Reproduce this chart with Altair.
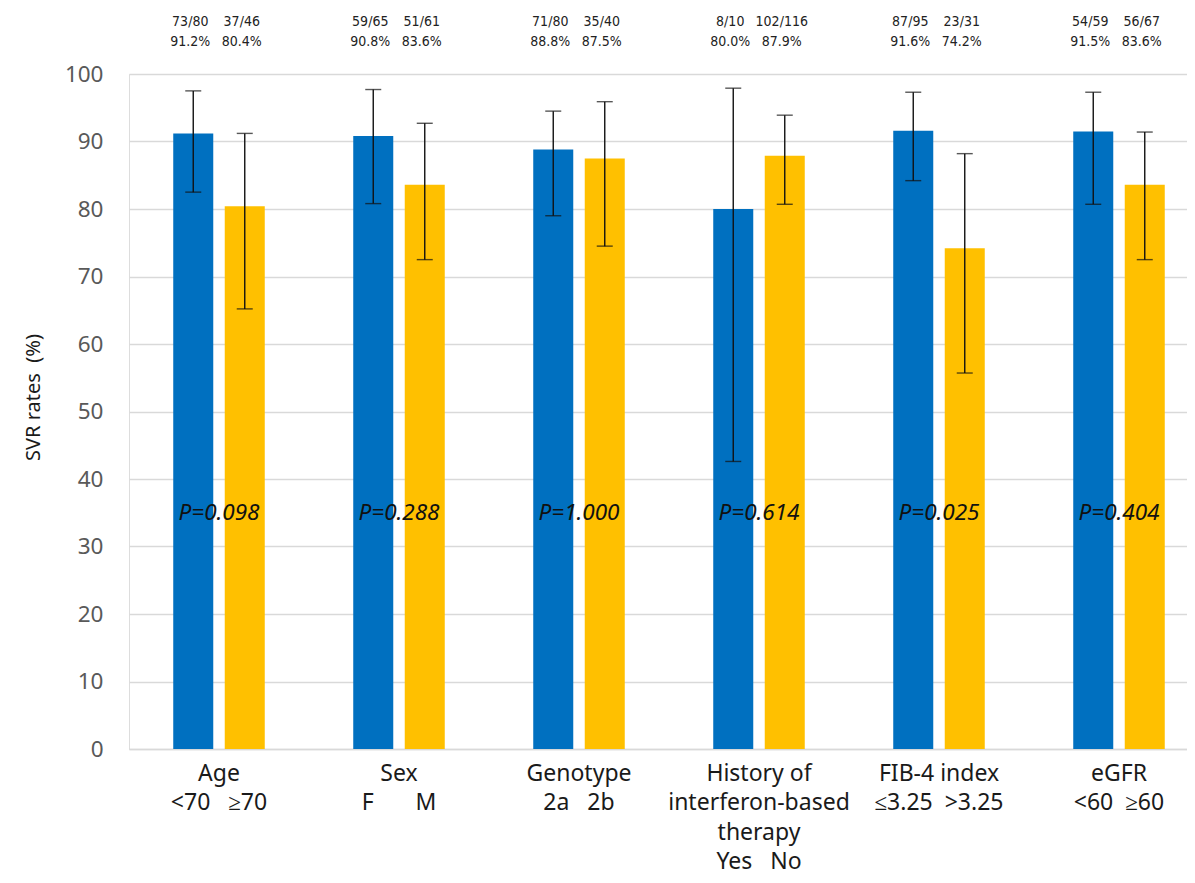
import altair as alt
import pandas as pd

NB = "\u00a0"

groups = [
    "Age|<70" + NB * 3 + "≥70",
    "Sex|F" + NB * 7 + "M",
    "Genotype|2a" + NB * 3 + "2b",
    "History of|interferon-based|therapy|Yes" + NB * 3 + "No" + NB * 3,
    "FIB-4 index" + NB * 2 + "|≤3.25" + NB * 2 + ">3.25" + NB * 5,
    "eGFR" + NB + "|<60" + NB * 2 + "≥60" + NB * 5,
]
series = ["first", "second"]

blue_vals = [91.2, 90.8, 88.8, 80.0, 91.6, 91.5]
yellow_vals = [80.4, 83.6, 87.5, 87.9, 74.2, 83.6]
blue_lo = [82.5, 80.8, 79.0, 42.6, 84.2, 80.7]
blue_hi = [97.5, 97.7, 94.5, 97.9, 97.3, 97.3]
yellow_lo = [65.2, 72.5, 74.5, 80.7, 55.7, 72.5]
yellow_hi = [91.2, 92.7, 95.9, 93.9, 88.2, 91.4]
blue_frac = ["73/80", "59/65", "71/80", "8/10", "87/95", "54/59"]
yellow_frac = ["37/46", "51/61", "35/40", "102/116", "23/31", "56/67"]
p_values = ["P=0.098", "P=0.288", "P=1.000", "P=0.614", "P=0.025", "P=0.404"]
p_y = 35

rows = []
for i, g in enumerate(groups):
    rows.append(dict(group=g, series=series[0], value=blue_vals[i], lo=blue_lo[i],
                     hi=blue_hi[i], frac=blue_frac[i]))
    rows.append(dict(group=g, series=series[1], value=yellow_vals[i], lo=yellow_lo[i],
                     hi=yellow_hi[i], frac=yellow_frac[i]))
df = pd.DataFrame(rows)
pdf = pd.DataFrame({"group": groups, "p": p_values, "py": [p_y] * len(groups)})

x_enc = alt.X(
    "group:N",
    sort=groups,
    scale=alt.Scale(range=[0, 1080], paddingInner=0, paddingOuter=0),
    axis=alt.Axis(
        title=None,
        labelExpr="split(datum.value, '|')",
        labelFont="Noto Sans",
        labelFontSize=23,
        labelColor="#1a1a1a",
        labelLineHeight=29.5,
        labelPadding=13,
        labelAngle=0,
        labelLimit=0,
        ticks=False,
        domainColor="#d9d9d9",
        domainWidth=1.5,
        grid=False,
        labelOverlap=False,
    ),
)
xo_enc = alt.XOffset(
    "series:N",
    sort=series,
    scale=alt.Scale(paddingInner=0.223, paddingOuter=0.859),
)
y_scale = alt.Scale(domain=[0, 100], nice=False)

bars = alt.Chart(df).mark_bar().encode(
    x=x_enc,
    xOffset=xo_enc,
    y=alt.Y(
        "value:Q",
        scale=y_scale,
        axis=alt.Axis(
            title="SVR rates" + NB * 2 + "(%)",
            titleFont="Noto Sans",
            titleFontSize=20,
            titleFontWeight="normal",
            titleColor="#1a1a1a",
            titleY=323,
            titleX=-86,
            values=list(range(0, 101, 10)),
            labelFont="Noto Sans",
            labelFontSize=22.5,
            labelColor="#595959",
            labelPadding=26,
            ticks=False,
            domain=False,
            gridColor="#d9d9d9",
            gridWidth=1.3,
        ),
    ),
    color=alt.Color(
        "series:N",
        sort=series,
        scale=alt.Scale(domain=series, range=["#0070C0", "#FFC000"]),
        legend=None,
    ),
)

err = alt.Chart(df).mark_rule(color="#111111", strokeWidth=1.4).encode(
    x=alt.X("group:N", sort=groups),
    xOffset=alt.XOffset("series:N", sort=series),
    y=alt.Y("lo:Q", scale=y_scale),
    y2="hi:Q",
)
cap_lo = alt.Chart(df).mark_tick(color="#111111", thickness=1.4, size=16).encode(
    x=alt.X("group:N", sort=groups),
    xOffset=alt.XOffset("series:N", sort=series),
    y=alt.Y("lo:Q", scale=y_scale),
)
cap_hi = alt.Chart(df).mark_tick(color="#111111", thickness=1.4, size=16).encode(
    x=alt.X("group:N", sort=groups),
    xOffset=alt.XOffset("series:N", sort=series),
    y=alt.Y("hi:Q", scale=y_scale),
)

frac_text = alt.Chart(df).mark_text(
    font="DejaVu Sans Condensed", fontSize=14, color="#222222", baseline="middle", dx=-3
).encode(
    x=alt.X("group:N", sort=groups),
    xOffset=alt.XOffset("series:N", sort=series),
    y=alt.value(-52),
    text="frac:N",
)
pct_text = alt.Chart(df).transform_calculate(
    pct="format(datum.value, '.1f') + '%'"
).mark_text(
    font="DejaVu Sans Condensed", fontSize=14, color="#222222", baseline="middle", dx=-3
).encode(
    x=alt.X("group:N", sort=groups),
    xOffset=alt.XOffset("series:N", sort=series),
    y=alt.value(-32),
    text="pct:N",
)

p_text = alt.Chart(pdf).mark_text(
    font="Noto Sans", fontSize=22.5, fontStyle="italic", color="#111111", baseline="middle"
).encode(
    x=alt.X("group:N", sort=groups),
    y=alt.Y("py:Q", scale=y_scale),
    text="p:N",
)

chart = alt.layer(bars, err, cap_lo, cap_hi, frac_text, pct_text, p_text).properties(
    width=1058,
    height=675,
    autosize=alt.AutoSizeParams(type="none"),
    padding={"left": 121, "top": 66, "right": 0, "bottom": 126},
).configure_view(stroke=None).configure(background="white")

chart.save("out.html", embed_options={"renderer": "svg", "actions": False})
